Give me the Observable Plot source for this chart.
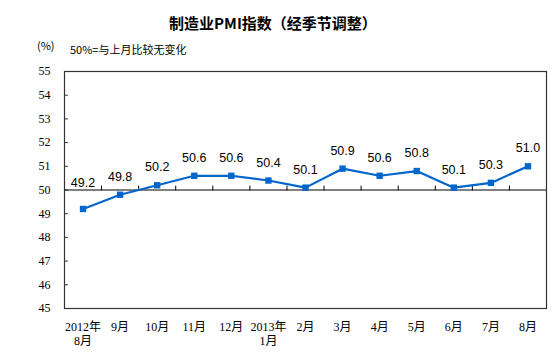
<!DOCTYPE html>
<html><head><meta charset="utf-8">
<script src="https://cdn.jsdelivr.net/npm/d3@7"></script>
<script src="https://cdn.jsdelivr.net/npm/@observablehq/plot@0.6"></script>
<style>
body{margin:0;background:#fff;}
#wrap{position:relative;width:553px;height:364px;}
.t{position:absolute;font-family:"Noto Sans CJK SC","Liberation Sans",sans-serif;color:#000;white-space:nowrap;}
</style></head><body>
<div id="wrap">
<div class="t" id="title" style="left:0;width:546px;text-align:center;top:12px;font-size:15px;font-weight:bold;">制造业PMI指数（经季节调整）</div>
<div class="t" style="left:37px;top:37px;font-size:11px;">(%)</div>
<div class="t" style="left:70px;top:41px;font-size:11px;">50%=与上月比较无变化</div>
<div id="chart" style="position:absolute;left:0;top:0;"></div>
</div>
<script>
const months = ["2012年\n8月","9月","10月","11月","12月","2013年\n1月","2月","3月","4月","5月","6月","7月","8月"];
const pmi = [49.2,49.8,50.2,50.6,50.6,50.4,50.1,50.9,50.6,50.8,50.1,50.3,51.0];
const yTicks = [45,46,47,48,49,50,51,52,53,54,55];
const baseline = 50;

const data = months.map((m,i)=>({i, m, v: pmi[i]}));
const idx = months.map((_,i)=>i);
const bounds = idx.slice(1).map(i=>i-0.5);
const blue = "#0066CC";
const serif = "'Liberation Serif','Noto Sans CJK SC',serif";

const chart = Plot.plot({
  width:553, height:364,
  marginLeft:64, marginRight:7, marginTop:71, marginBottom:56,
  style:{background:"transparent", fontFamily:serif},
  x:{type:"linear", domain:[-0.5, months.length-0.5], label:null},
  y:{domain:[45,55], label:null},
  marks:[
    Plot.frame({stroke:"#333", strokeWidth:1.2}),
    Plot.ruleY([baseline], {stroke:"#000", strokeWidth:1}),
    Plot.vector(bounds, {x:d=>d, y:()=>baseline, length:4, rotate:0, anchor:"start", stroke:"#000", strokeWidth:1,
      shape:{draw(ctx,l){ctx.moveTo(0,0); ctx.lineTo(0,-l);}}}),
    Plot.axisY(yTicks, {tickSize:4, dx:4, tickFormat:()=>"", stroke:"#333", label:null}),
    Plot.axisY(yTicks, {tickSize:0, tickPadding:14, fontSize:12, fill:"#000", fontFamily:serif, label:null}),
    Plot.axisX(idx, {tickSize:0, tickPadding:12, fontSize:12, lineHeight:1.2, tickFormat:i=>months[i], fill:"#000", fontFamily:serif, label:null}),
    Plot.line(data, {x:"i", y:"v", stroke:blue, strokeWidth:2.2}),
    Plot.dot(data, {x:"i", y:"v", symbol:"square", r:3.6, fill:blue, stroke:"none"}),
    Plot.text(data.slice(0,1), {x:"i", y:"v", text:d=>d.v.toFixed(1), dy:-26, fontSize:12.5, fontFamily:"'Liberation Sans',Arial,sans-serif", fill:"#000"}),
    Plot.text(data.slice(1), {x:"i", y:"v", text:d=>d.v.toFixed(1), dy:-18, fontSize:12.5, fontFamily:"'Liberation Sans',Arial,sans-serif", fill:"#000"})
  ]
});
document.getElementById("chart").appendChild(chart);
</script>
</body></html>
